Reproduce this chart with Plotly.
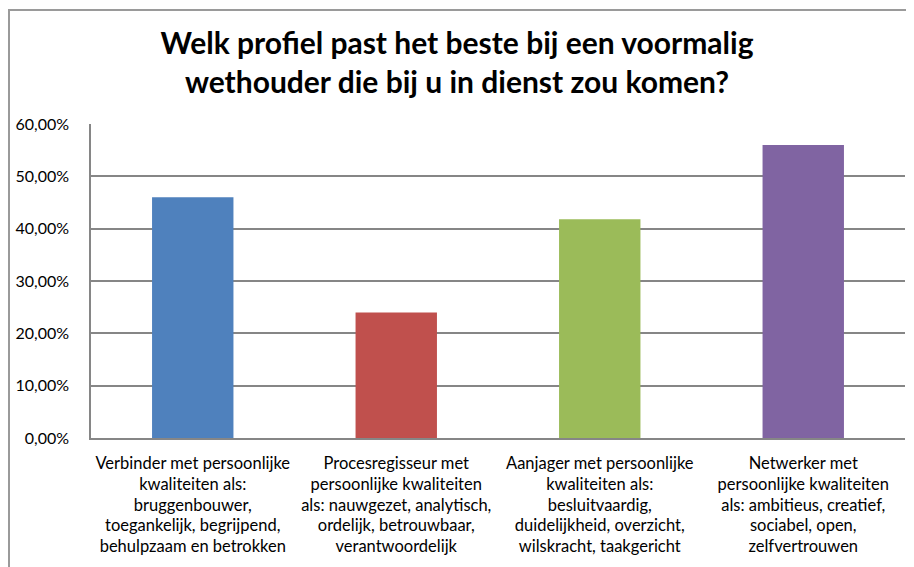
import plotly.graph_objects as go

categories = ["Verbinder", "Procesregisseur", "Aanjager", "Netwerker"]
values = [0.46, 0.24, 0.418, 0.56]
colors = ["#4F81BD", "#C0504D", "#9BBB59", "#8064A2"]
label_lines = [
    ["Verbinder met persoonlijke", "kwaliteiten als:", "bruggenbouwer,", "toegankelijk, begrijpend,", "behulpzaam en betrokken"],
    ["Procesregisseur met", "persoonlijke kwaliteiten", "als: nauwgezet, analytisch,", "ordelijk, betrouwbaar,", "verantwoordelijk"],
    ["Aanjager met persoonlijke", "kwaliteiten als:", "besluitvaardig,", "duidelijkheid, overzicht,", "wilskracht, taakgericht"],
    ["Netwerker met", "persoonlijke kwaliteiten", "als: ambitieus, creatief,", "sociabel, open,", "zelfvertrouwen"],
]
y_ticks = [0, 0.1, 0.2, 0.3, 0.4, 0.5, 0.6]
title_text = "Welk profiel past het beste bij een voormalig<br>wethouder die bij u in dienst zou komen?"

FONT = "Lato"
ticktext = ["<br>".join("<span style='font-size:16.5px'>" + l + "</span>" for l in lines) for lines in label_lines]

fig = go.Figure(go.Bar(
    x=categories, y=values, marker=dict(color=colors, line=dict(width=0)),
    width=0.4, showlegend=False, hoverinfo="skip",
))

# page body has an 8px margin: figure coordinates are offset by OFF
OFF = 8
W, H = 914 - OFF, 567 - OFF
L, R, T, B = 91 - OFF, 914 - 905, 124 - OFF, 567 - 438
pw, ph = W - L - R, H - T - B

def px_x(x):
    return (x - OFF - L) / pw

def px_y(y):
    return (H - B - (y - OFF)) / ph

fig.update_layout(
    width=W, height=H,
    margin=dict(l=L, r=R, t=T, b=B, autoexpand=False),
    paper_bgcolor="white", plot_bgcolor="white",
    separators=",.",
    font=dict(family=FONT, color="#000000"),
    title=dict(text="<b>" + title_text + "</b>", x=(457 - OFF) / W, xanchor="center",
               y=1 - (54 - OFF) / H, yanchor="middle",
               font=dict(family=FONT, size=30, color="#000000")),
    xaxis=dict(
        tickmode="array", tickvals=categories, ticktext=ticktext,
        tickfont=dict(family=FONT, size=16, color="#000000"),
        showline=True, linecolor="#868686", linewidth=1.5,
        ticks="", showgrid=False, tickangle=0, automargin=False,
        ticklabelstandoff=10,
    ),
    yaxis=dict(
        range=[0, 0.6], tickvals=y_ticks, tickformat=".2%",
        tickfont=dict(family=FONT, size=16, color="#000000"),
        showgrid=True, gridcolor="#868686", gridwidth=1.5,
        showline=True, linecolor="#868686", linewidth=1.5,
        ticks="", zeroline=False, ticklabelstandoff=17, automargin=False,
    ),
    shapes=[dict(type="rect", xref="paper", yref="paper",
                 x0=px_x(9), x1=px_x(940), y0=px_y(600), y1=px_y(10),
                 line=dict(color="#9A9A9A", width=2), fillcolor="rgba(0,0,0,0)", layer="above")],
)

fig.write_html("out.html")
